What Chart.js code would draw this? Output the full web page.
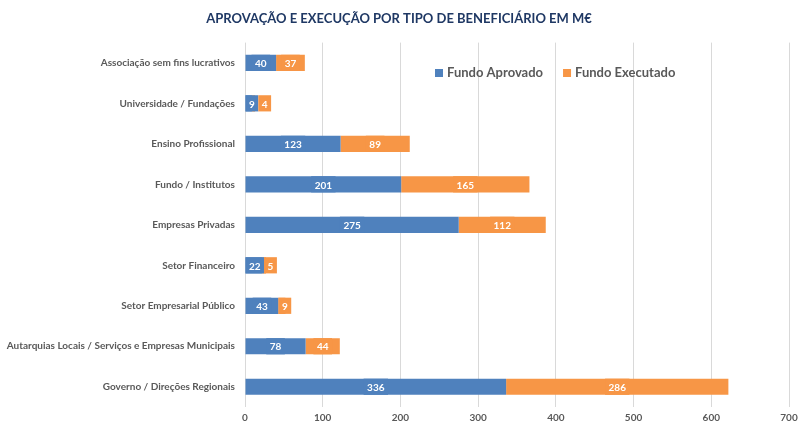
<!DOCTYPE html>
<html>
<head>
<meta charset="utf-8">
<script src="https://cdn.jsdelivr.net/npm/chart.js@4"></script>
<style>
  html, body { margin: 0; padding: 0; background: #fff; }
  #wrap { width: 798px; height: 423px; }
</style>
</head>
<body>
<div id="wrap"><canvas id="myChart" width="798" height="423"></canvas></div>
<script>
const categories = [
  'Associação sem fins lucrativos',
  'Universidade / Fundações',
  'Ensino Profissional',
  'Fundo / Institutos',
  'Empresas Privadas',
  'Setor Financeiro',
  'Setor Empresarial Público',
  'Autarquias Locais / Serviços e Empresas Municipais',
  'Governo / Direções Regionais'
];
const fundoAprovado = [40, 9, 123, 201, 275, 22, 43, 78, 336];
const fundoExecutado = [37, 4, 89, 165, 112, 5, 9, 44, 286];
const xTicks = [0, 100, 200, 300, 400, 500, 600, 700];

const FONT = 'Lato, "Open Sans", sans-serif';

// value labels: white text on a box in the series colour, pushed right if they collide
const barLabels = {
  id: 'barLabels',
  afterDatasetsDraw(chart) {
    const ctx = chart.ctx;
    ctx.save();
    ctx.font = 'bold 10px ' + FONT;
    ctx.textAlign = 'center';
    ctx.textBaseline = 'middle';
    const n = chart.data.labels.length;
    for (let j = 0; j < n; j++) {
      let prevEnd = -Infinity;
      chart.data.datasets.forEach((ds, i) => {
        const bar = chart.getDatasetMeta(i).data[j];
        const p = bar.getProps(['x', 'y', 'base', 'height'], true);
        const txt = String(ds.data[j]);
        const w = ctx.measureText(txt).width + 7;
        let left = (p.x + p.base) / 2 - w / 2;
        left = Math.max(left, p.base, prevEnd);
        prevEnd = left + w;
        ctx.fillStyle = ds.backgroundColor;
        ctx.fillRect(left, p.y - p.height / 2, w, p.height);
        ctx.fillStyle = '#ffffff';
        ctx.fillText(txt, left + w / 2, p.y + 1);
      });
    }
    ctx.restore();
  }
};

// legend drawn inside the plot area
const innerLegend = {
  id: 'innerLegend',
  afterDraw(chart) {
    const ctx = chart.ctx;
    ctx.save();
    ctx.font = 'bold 13px ' + FONT;
    ctx.textBaseline = 'middle';
    let x = 435;
    const y = 73;
    chart.data.datasets.forEach(ds => {
      ctx.fillStyle = ds.backgroundColor;
      ctx.fillRect(x, y - 4, 8, 8);
      ctx.fillStyle = '#595959';
      ctx.fillText(ds.label, x + 12, y);
      x += 12 + ctx.measureText(ds.label).width + 20;
    });
    ctx.restore();
  }
};

const ctx = document.getElementById('myChart').getContext('2d');
const myChart = new Chart(ctx, {
  type: 'bar',
  data: {
    labels: categories,
    datasets: [
      { label: 'Fundo Aprovado', data: fundoAprovado, backgroundColor: '#4F81BD' },
      { label: 'Fundo Executado', data: fundoExecutado, backgroundColor: '#F79646' }
    ]
  },
  options: {
    indexAxis: 'y',
    responsive: false,
    animation: false,
    barPercentage: 0.8,
    categoryPercentage: 0.5,
    layout: { padding: 0 },
    plugins: {
      legend: { display: false },
      tooltip: { enabled: false },
      title: {
        display: true,
        text: 'APROVAÇÃO E EXECUÇÃO POR TIPO DE BENEFICIÁRIO EM M€',
        color: '#1F3864',
        font: { family: FONT, size: 13, weight: 'bold' },
        padding: { top: 11, bottom: 16 }
      }
    },
    scales: {
      x: {
        stacked: true,
        min: 0,
        max: 700,
        afterBuildTicks: axis => { axis.ticks = xTicks.map(v => ({ value: v })); },
        afterFit: axis => {
          axis.height = 16;
          axis.paddingLeft = 0;
          axis.paddingRight = 9;
        },
        grid: { color: '#D9D9D9', drawTicks: false },
        border: { display: false },
        ticks: {
          color: '#595959',
          padding: 5,
          font: { family: FONT, size: 10, weight: 'bold' }
        }
      },
      y: {
        stacked: true,
        afterFit: axis => { axis.width = 245; },
        grid: { display: false },
        border: { display: false },
        ticks: {
          color: '#595959',
          padding: 2,
          font: { family: FONT, size: 10, weight: 'bold' }
        }
      }
    }
  },
  plugins: [barLabels, innerLegend]
});
</script>
</body>
</html>
